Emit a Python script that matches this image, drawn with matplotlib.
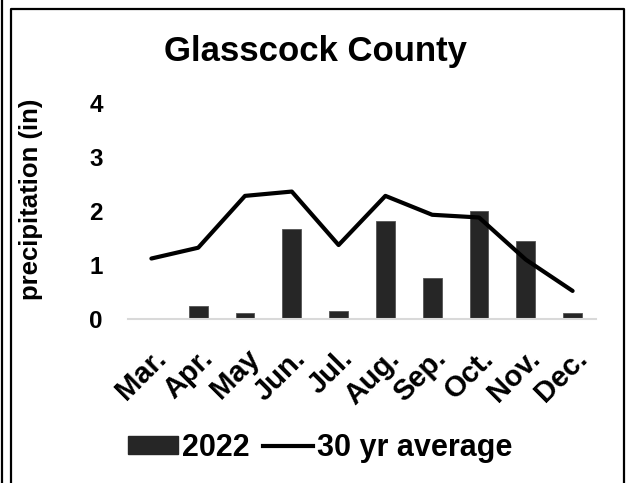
import matplotlib
matplotlib.use("Agg")
import matplotlib.pyplot as plt
import matplotlib.transforms as mtransforms
from matplotlib.lines import Line2D
from matplotlib.patches import Patch

plt.rcParams['font.family'] = ['Liberation Sans', 'DejaVu Sans']

months = ["Mar.", "Apr.", "May", "Jun.", "Jul.", "Aug.", "Sep.", "Oct.", "Nov.", "Dec."]
precip_2022 = [0.0, 0.24, 0.12, 1.66, 0.15, 1.81, 0.76, 2.00, 1.44, 0.12]
avg_30yr = [1.12, 1.32, 2.28, 2.36, 1.37, 2.28, 1.93, 1.88, 1.10, 0.52]
yticks = [0, 1, 2, 3, 4]

W, H = 626, 483
fig = plt.figure(figsize=(W / 100, H / 100), dpi=100)
ax = fig.add_axes([128 / W, 1 - 319 / H, (596 - 128) / W, (319 - 103) / H])

x = list(range(len(months)))
ax.bar(x, precip_2022, width=0.4, color="#262626", edgecolor="#555555", linewidth=0.6,
       label="2022", zorder=2)
ax.plot(x, avg_30yr, color="black", linewidth=3.0, solid_capstyle="round",
        solid_joinstyle="round", label="30 yr average", zorder=3)

ax.set_xlim(-0.5, len(months) - 0.5)
ax.set_ylim(0, 4)
ax.set_yticks(yticks)
ax.set_yticklabels([str(v) for v in yticks], fontsize=17.5, fontweight="bold")
ax.set_xticks(x)
ax.set_xticklabels(months, fontsize=21, fontweight="bold", rotation=45,
                   ha="right", va="top", rotation_mode="anchor")
shift = mtransforms.ScaledTranslation(-11 / 100, 0, fig.dpi_scale_trans)
for lab in ax.get_xticklabels():
    lab.set_transform(lab.get_transform() + shift)
ax.tick_params(axis="both", length=0)
ax.tick_params(axis="y", pad=18)
ax.tick_params(axis="x", pad=18)
for s in ["top", "right", "left"]:
    ax.spines[s].set_visible(False)
ax.spines["bottom"].set_color("#d9d9d9")
ax.spines["bottom"].set_linewidth(1.5)
ax.set_ylabel("precipitation (in)", fontsize=18.5, fontweight="bold", ha="center", va="center")
ax.yaxis.set_label_coords((31 - 128) / (596 - 128), (319 - 199) / (319 - 103))

fig.text(315 / W, 1 - 52 / H, "Glasscock County", ha="center", va="center",
         fontsize=25, fontweight="bold")

handles = [Patch(facecolor="#262626", edgecolor="#262626"),
           Line2D([0], [0], color="black", linewidth=3.0)]
fig.legend(handles, ["2022", "30 yr average"], loc="center", bbox_to_anchor=(320 / W, 1 - 448 / H),
           ncol=2, frameon=False, prop={"size": 22, "weight": "bold"},
           handlelength=1.65, handleheight=0.5, handletextpad=0.12, columnspacing=0.45,
           borderpad=0, borderaxespad=0)

# borders
lw = 1.6
fig.add_artist(Line2D([1.5 / W, 1.5 / W], [0, 1], transform=fig.transFigure, color="black", linewidth=lw))
fig.add_artist(Line2D([11 / W, 11 / W, 624 / W, 624 / W], [0, 1 - 9 / H, 1 - 9 / H, 0],
                      transform=fig.transFigure, color="black", linewidth=lw))

fig.savefig("out.png", dpi=100, facecolor="white")
